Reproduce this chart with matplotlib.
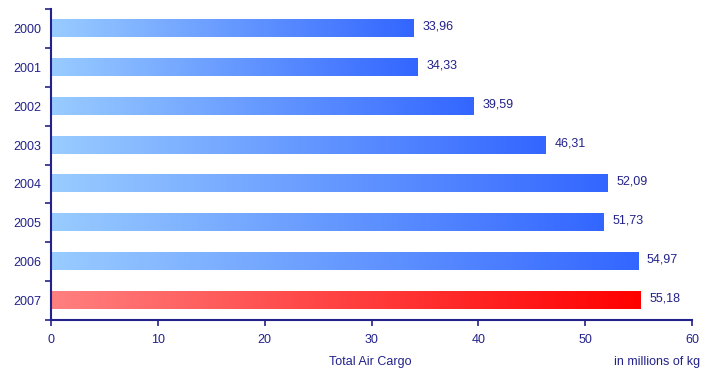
import matplotlib
matplotlib.use("Agg")
import matplotlib.pyplot as plt
import numpy as np
from matplotlib.colors import LinearSegmentedColormap

years = ["2000", "2001", "2002", "2003", "2004", "2005", "2006", "2007"]
values = [33.96, 34.33, 39.59, 46.31, 52.09, 51.73, 54.97, 55.18]
value_labels = ["33,96", "34,33", "39,59", "46,31", "52,09", "51,73", "54,97", "55,18"]
xticks = [0, 10, 20, 30, 40, 50, 60]

plt.rcParams['font.family'] = ['Liberation Sans', 'DejaVu Sans']
navy = '#22228a'
fs = 9

fig = plt.figure(figsize=(7.07, 3.73), dpi=100)
ax = fig.add_axes([51/707, 53/373, (692-51)/707, (320-9)/373])

blue_cmap = LinearSegmentedColormap.from_list('b', ['#99ccff', '#3366ff'])
red_cmap = LinearSegmentedColormap.from_list('r', ['#ff8080', '#ff0000'])
grad = np.linspace(0, 1, 256).reshape(1, -1)
h = 0.44
for i, (y, v, lab) in enumerate(zip(years, values, value_labels)):
    cmap = red_cmap if y == "2007" else blue_cmap
    ax.imshow(grad, cmap=cmap, aspect='auto', extent=(0, v, i + h/2, i - h/2),
              interpolation='bilinear', zorder=2)
    ax.text(v + 0.8, i - 0.05, lab, va='center', ha='left', fontsize=fs, color=navy)

ax.set_xlim(0, 60)
ax.set_ylim(len(years) - 0.5, -0.5)
ax.set_xticks(xticks)
ax.set_xticklabels([str(t) for t in xticks])
ax.set_yticks(np.arange(-0.5, len(years), 1.0))
ax.set_yticklabels([])
ax.set_yticks(np.arange(len(years)), minor=True)
ax.set_yticklabels(years, minor=True)
ax.tick_params(axis='y', which='minor', length=0, pad=7, labelsize=fs, labelcolor=navy)
ax.tick_params(axis='y', which='major', length=4, width=1.2, color=navy)
ax.tick_params(axis='x', length=4, width=1.2, color=navy, labelsize=fs, labelcolor=navy, pad=6)

for s in ['top', 'right']:
    ax.spines[s].set_visible(False)
for s in ['left', 'bottom']:
    ax.spines[s].set_color(navy)
    ax.spines[s].set_linewidth(1.5)

fig.text(370/707, 1 - 362/373, "Total Air Cargo", ha='center', va='center', fontsize=fs, color=navy)
fig.text(700/707, 1 - 362/373, "in millions of kg", ha='right', va='center', fontsize=fs, color=navy)

fig.savefig("out.png", dpi=100)
